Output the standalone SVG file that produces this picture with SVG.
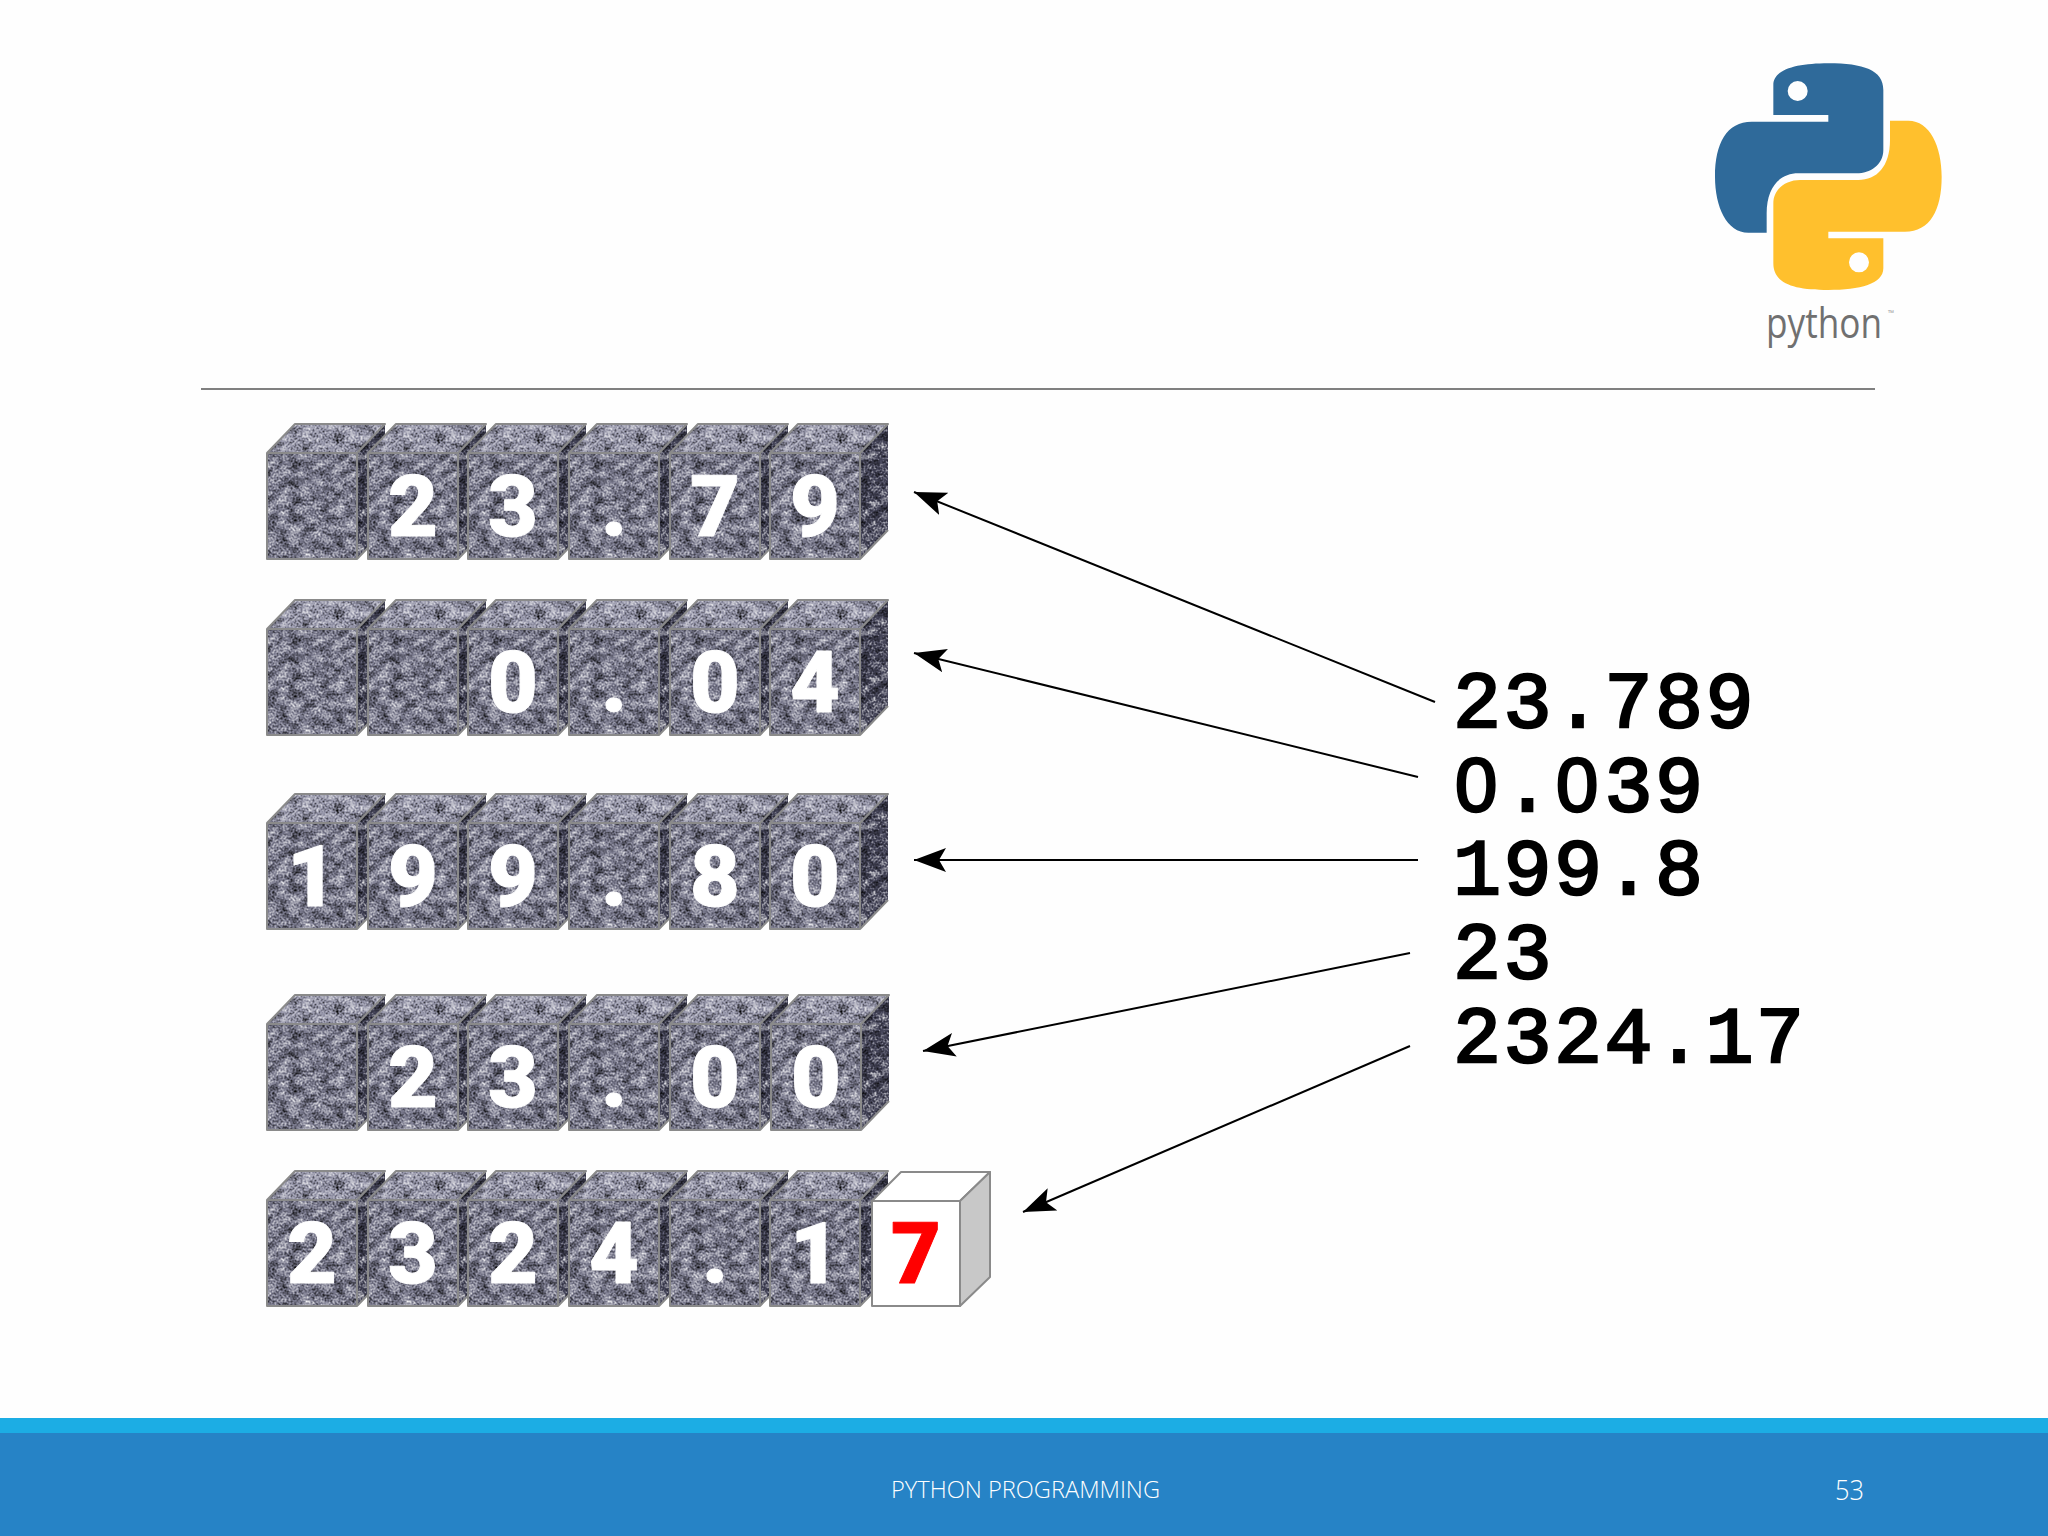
<svg xmlns="http://www.w3.org/2000/svg" xmlns:xlink="http://www.w3.org/1999/xlink" width="2048" height="1536" viewBox="0 0 2048 1536">
<style>
.d{font-family:Roboto,"Liberation Sans",sans-serif;font-weight:900;font-size:86px;text-anchor:middle;fill:#fff;stroke:#fff;stroke-width:1px;stroke-linejoin:round}
.v{font-family:"Liberation Mono",monospace;font-weight:400;font-size:80px;letter-spacing:2.5px;fill:#000;stroke:#000;stroke-width:2.6px}
.z{font-family:"Liberation Sans",sans-serif;font-size:76px}
.c{stroke:#000;stroke-width:2;fill:none;marker-end:url(#ah)}
.f{font-family:"Open Sans","Liberation Sans",sans-serif;font-weight:300;fill:#fff}
.e{stroke:#8a8a8a;stroke-width:2;stroke-linejoin:round}
</style>
<defs>
<filter id="stone" x="0" y="0" width="1" height="1" color-interpolation-filters="sRGB">
<feTurbulence type="fractalNoise" baseFrequency="0.5" numOctaves="2" seed="7" result="n1"/>
<feTurbulence type="fractalNoise" baseFrequency="0.09 0.11" numOctaves="3" seed="11" result="n2"/>
<feColorMatrix in="n1" type="matrix" values="1.5 0 0 0 -0.25  1.5 0 0 0 -0.25  1.5 0 0 0 -0.25  0 0 0 0 1" result="a"/>
<feColorMatrix in="n2" type="matrix" values="1.4 0 0 0 -0.2  1.4 0 0 0 -0.2  1.4 0 0 0 -0.2  0 0 0 0 1" result="c"/>
<feComposite in="a" in2="c" operator="arithmetic" k1="0" k2="0.55" k3="0.55" k4="-0.05" result="g0"/>
<feGaussianBlur in="g0" stdDeviation="0.4" result="g"/>
<feBlend in="SourceGraphic" in2="g" mode="overlay" result="b"/>
<feComposite in="b" in2="SourceGraphic" operator="in"/>
</filter>
<g id="stoneCube">
<g filter="url(#stone)">
<polygon points="0,29 28,0 118,0 90,29" fill="#9292a6"/>
<polygon points="90,29 118,0 118,106 90,135" fill="#46465a"/>
<rect x="0" y="29" width="90" height="106" fill="#78788c"/>
</g>
<path class="e" fill="none" d="M0,29 L28,0 H118 L90,29 H0 V135 H90 V29 M90,135 L118,106"/>
</g>
<marker id="ah" markerUnits="userSpaceOnUse" markerWidth="34" markerHeight="26" refX="32" refY="13" orient="auto">
<path d="M32,13 L0,1 L7,13 L0,25 Z" fill="#000"/>
</marker>
</defs>
<rect width="2048" height="1536" fill="#fefefe"/>
<g id="logo">
<g transform="translate(1690,40) scale(0.33333)">
<path fill="#2f6a9a" fill-rule="evenodd" d="M250,225 V135 C250,88 320,70 415,70 C520,70 580,90 580,150 V330 C580,375 540,400 500,400 H325 C270,400 230,440 230,520 V578 H175 C110,578 75,500 75,410 C75,310 110,245 185,245 H415 V225 Z M323,123 A30,30 0 1 0 323.1,183 A30,30 0 1 0 323,123 Z"/>
<path fill="#ffc02d" fill-rule="evenodd" transform="rotate(180 415 410)" d="M250,225 V135 C250,88 320,70 415,70 C520,70 580,90 580,150 V330 C580,375 540,400 500,400 H325 C270,400 230,440 230,520 V578 H175 C110,578 75,500 75,410 C75,310 110,245 185,245 H415 V225 Z M323,123 A30,30 0 1 0 323.1,183 A30,30 0 1 0 323,123 Z"/>
</g>
<text x="1766" y="338" font-family="'Open Sans','Liberation Sans',sans-serif" font-weight="400" font-size="42" fill="#707070" textLength="116" lengthAdjust="spacingAndGlyphs">python</text>
<text x="1888" y="316" font-family="'Open Sans','Liberation Sans',sans-serif" font-size="8" fill="#999">™</text>
</g>
<line id="rule" x1="201" y1="389" x2="1875" y2="389" stroke="#808080" stroke-width="2"/>
<g id="row1">
<g id="r1c1" transform="translate(267,424)"><use xlink:href="#stoneCube"/></g>
<g id="r1c2" transform="translate(368,424)"><use xlink:href="#stoneCube"/><text class="d" x="45" y="112">2</text></g>
<g id="r1c3" transform="translate(468,424)"><use xlink:href="#stoneCube"/><text class="d" x="45" y="112">3</text></g>
<g id="r1c4" transform="translate(569,424)"><use xlink:href="#stoneCube"/><text class="d" x="45" y="112">.</text></g>
<g id="r1c5" transform="translate(670,424)"><use xlink:href="#stoneCube"/><text class="d" x="45" y="112">7</text></g>
<g id="r1c6" transform="translate(770,424)"><use xlink:href="#stoneCube"/><text class="d" x="45" y="112">9</text></g>
</g>
<g id="row2">
<g id="r2c1" transform="translate(267,600)"><use xlink:href="#stoneCube"/></g>
<g id="r2c2" transform="translate(368,600)"><use xlink:href="#stoneCube"/></g>
<g id="r2c3" transform="translate(468,600)"><use xlink:href="#stoneCube"/><text class="d" x="45" y="112">0</text></g>
<g id="r2c4" transform="translate(569,600)"><use xlink:href="#stoneCube"/><text class="d" x="45" y="112">.</text></g>
<g id="r2c5" transform="translate(670,600)"><use xlink:href="#stoneCube"/><text class="d" x="45" y="112">0</text></g>
<g id="r2c6" transform="translate(770,600)"><use xlink:href="#stoneCube"/><text class="d" x="45" y="112">4</text></g>
</g>
<g id="row3">
<g id="r3c1" transform="translate(267,794)"><use xlink:href="#stoneCube"/><text class="d" x="45" y="112">1</text></g>
<g id="r3c2" transform="translate(368,794)"><use xlink:href="#stoneCube"/><text class="d" x="45" y="112">9</text></g>
<g id="r3c3" transform="translate(468,794)"><use xlink:href="#stoneCube"/><text class="d" x="45" y="112">9</text></g>
<g id="r3c4" transform="translate(569,794)"><use xlink:href="#stoneCube"/><text class="d" x="45" y="112">.</text></g>
<g id="r3c5" transform="translate(670,794)"><use xlink:href="#stoneCube"/><text class="d" x="45" y="112">8</text></g>
<g id="r3c6" transform="translate(770,794)"><use xlink:href="#stoneCube"/><text class="d" x="45" y="112">0</text></g>
</g>
<g id="row4">
<g id="r4c1" transform="translate(267,995)"><use xlink:href="#stoneCube"/></g>
<g id="r4c2" transform="translate(368,995)"><use xlink:href="#stoneCube"/><text class="d" x="45" y="112">2</text></g>
<g id="r4c3" transform="translate(468,995)"><use xlink:href="#stoneCube"/><text class="d" x="45" y="112">3</text></g>
<g id="r4c4" transform="translate(569,995)"><use xlink:href="#stoneCube"/><text class="d" x="45" y="112">.</text></g>
<g id="r4c5" transform="translate(670,995)"><use xlink:href="#stoneCube"/><text class="d" x="45" y="112">0</text></g>
<g id="r4c6" transform="translate(771,995)"><use xlink:href="#stoneCube"/><text class="d" x="45" y="112">0</text></g>
</g>
<g id="row5">
<g id="r5c1" transform="translate(267,1171)"><use xlink:href="#stoneCube"/><text class="d" x="45" y="112">2</text></g>
<g id="r5c2" transform="translate(368,1171)"><use xlink:href="#stoneCube"/><text class="d" x="45" y="112">3</text></g>
<g id="r5c3" transform="translate(468,1171)"><use xlink:href="#stoneCube"/><text class="d" x="45" y="112">2</text></g>
<g id="r5c4" transform="translate(569,1171)"><use xlink:href="#stoneCube"/><text class="d" x="45" y="112">4</text></g>
<g id="r5c5" transform="translate(670,1171)"><use xlink:href="#stoneCube"/><text class="d" x="45" y="112">.</text></g>
<g id="r5c6" transform="translate(770,1171)"><use xlink:href="#stoneCube"/><text class="d" x="45" y="112">1</text></g>
<g id="r5c7" transform="translate(872,1172)">
<polygon class="e" points="0,29 29,0 118,0 88,29" fill="#fff"/>
<polygon class="e" points="88,29 118,0 118,105 88,134" fill="#c8c8c8"/>
<rect class="e" x="0" y="29" width="88" height="105" fill="#fff"/>
<text class="d" x="44" y="111" style="fill:#f00;stroke:#f00">7</text>
</g>
</g>
<g id="connectors">
<line class="c" x1="1435" y1="702" x2="914" y2="492"/>
<line class="c" x1="1418" y1="777" x2="914" y2="653"/>
<line class="c" x1="1418" y1="860" x2="914" y2="860"/>
<line class="c" x1="1410" y1="953" x2="923" y2="1051"/>
<line class="c" x1="1410" y1="1046" x2="1023" y2="1212"/>
</g>
<g id="values">
<text class="v" x="1453" y="727">23.789</text>
<text class="v" y="811"><tspan class="z" x="1455">0</tspan><tspan x="1503.5">.</tspan><tspan class="z" x="1556">0</tspan><tspan x="1604.5">39</tspan></text>
<text class="v" x="1453" y="894">199.8</text>
<text class="v" x="1453" y="978">23</text>
<text class="v" x="1453" y="1062">2324.17</text>
</g>
<g id="footer">
<rect x="0" y="1418" width="2048" height="118" fill="#2683c6"/>
<rect x="0" y="1418" width="2048" height="15" fill="#1cade4"/>
<text class="f" x="891" y="1498" font-size="24" textLength="269" lengthAdjust="spacingAndGlyphs">PYTHON PROGRAMMING</text>
<text class="f" x="1835" y="1500" font-size="28" textLength="29" lengthAdjust="spacingAndGlyphs">53</text>
</g>
</svg>
